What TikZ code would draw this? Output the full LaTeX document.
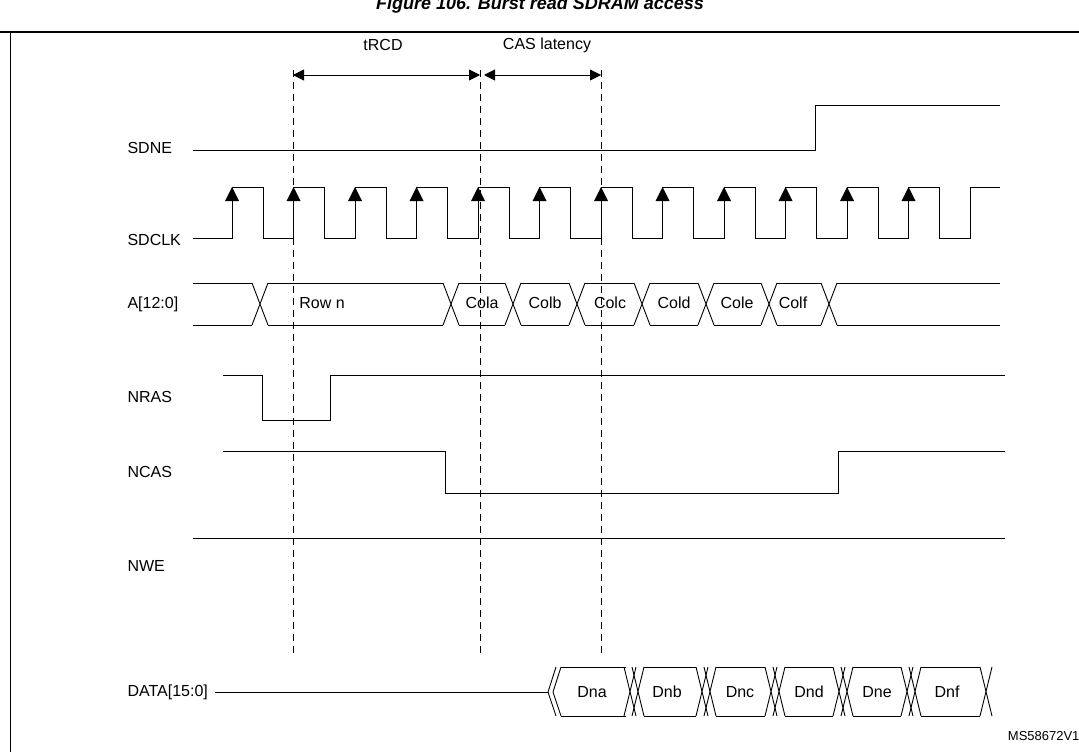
\documentclass[tikz,border=0pt]{standalone}
\usepackage{fontspec}
\setmainfont{Liberation Sans}
\usetikzlibrary{arrows.meta}

\tikzset{
  sig/.style={line width=0.9pt},
  txt/.style={font=\fontsize{16}{18}\selectfont},
  lbl/.style={txt, anchor=west},
  marker/.style={dash pattern=on 7pt off 5pt, line width=0.8pt},
  span/.style={line width=0.9pt, {Triangle[length=11pt,width=11pt]}-{Triangle[length=11pt,width=11pt]}},
}
% half width of a bus transition
\def\w{8}

\begin{document}
\begin{tikzpicture}[x=1pt,y=-1pt]
\useasboundingbox (0,0) rectangle (1079,752);
% frame and title
\node[anchor=base, font=\fontsize{18}{20}\selectfont\bfseries\itshape] (title) at (540,10) {Figure 106. Burst read SDRAM access};
\draw[line width=2pt] (0,32) -- (1079,32);
\draw[line width=0.8pt] (10,33) -- (10,752);
\node[anchor=east, font=\fontsize{13}{15}\selectfont] (ref) at (1083,736) {MS58672V1};

% signal names
\node[lbl] (sdne) at (124,148) {SDNE};
\node[lbl] (sdclk) at (124,240) {SDCLK};
\node[lbl] (addr) at (124,304) {A[12:0]};
\node[lbl] (nras) at (124,397) {NRAS};
\node[lbl] (ncas) at (124,472) {NCAS};
\node[lbl] (nwe) at (124,566) {NWE};
\node[lbl] (data) at (124,692) {DATA[15:0]};

% timing markers
\foreach \x in {293,480,601} \draw[marker] (\x,70) -- (\x,655);
\draw[span] (293,75) -- (480,75);
\draw[span] (484,75) -- (601,75);
\node[txt] (trcd) at (383,45) {tRCD};
\node[txt] (cas) at (547,45) {CAS latency};

% SDNE
\draw[sig] (193,150) -- (815,150) -- (815,105) -- (1000,105);

% SDCLK
\draw[sig] (193,238) foreach \k in {0,...,11} {
  -- ({232+61.5*\k},238) -- ({232+61.5*\k},187) -- ({263+61.5*\k},187) -- ({263+61.5*\k},238) }
  -- (970,238) -- (970,187) -- (1000,187);
\foreach \k in {0,...,11} \fill ({232+61.5*\k-7},201) -- ({232+61.5*\k},187) -- ({232+61.5*\k+7},201) -- cycle;

% A[12:0]
\draw[sig] (193,283) -- (260-\w,283) (193,325) -- (260-\w,325);
\foreach \a/\b in {260/451,451/513,513/577,577/642,642/706,706/769,769/829}
  \draw[sig] (\a+\w,283) -- (\b-\w,283) (\a+\w,325) -- (\b-\w,325);
\foreach \c in {260,451,513,577,642,706,769,829}
  \draw[sig] (\c-\w,283) -- (\c+\w,325) (\c-\w,325) -- (\c+\w,283);
\draw[sig] (829+\w,283) -- (1000,283) (829+\w,325) -- (1000,325);
\foreach \x/\t in {322/Row n,482/Cola,545/Colb,610/Colc,674/Cold,737/Cole,793/Colf}
  \node[txt] at (\x,303) {\t};

% NRAS, NCAS, NWE
\draw[sig] (223,375) -- (262,375) -- (262,420) -- (330,420) -- (330,375) -- (1005,375);
\draw[sig] (223,451) -- (445,451) -- (445,493) -- (838,493) -- (838,451) -- (1005,451);
\draw[sig] (193,538) -- (1005,538);

% DATA[15:0]
\draw[sig] (215,692) -- (548,692);
\draw[sig] (556,667) -- (548,692) -- (556,716) (561,667) -- (553,692) -- (561,716);
\draw[sig] (561,667) -- (626,667) (561,716) -- (626,716);
\foreach \a/\b in {634/706,706/775,775/843,843/911}
  \draw[sig] (\a+10,667) -- (\b-10,667) (\a+10,716) -- (\b-10,716);
\draw[sig] (921,667) -- (980,667) (921,716) -- (980,716);
\foreach \c in {634,706,775,843,911}
  \foreach \d in {-4,4}
    \draw[sig] (\c+\d-6,667) -- (\c+\d+6,716) (\c+\d-6,716) -- (\c+\d+6,667);
\draw[sig] (980,667) -- (992,716) (980,716) -- (992,667);
\foreach \x/\t in {592/Dna,667/Dnb,740/Dnc,809/Dnd,877/Dne,947/Dnf}
  \node[txt] at (\x,692) {\t};
\end{tikzpicture}
\end{document}
